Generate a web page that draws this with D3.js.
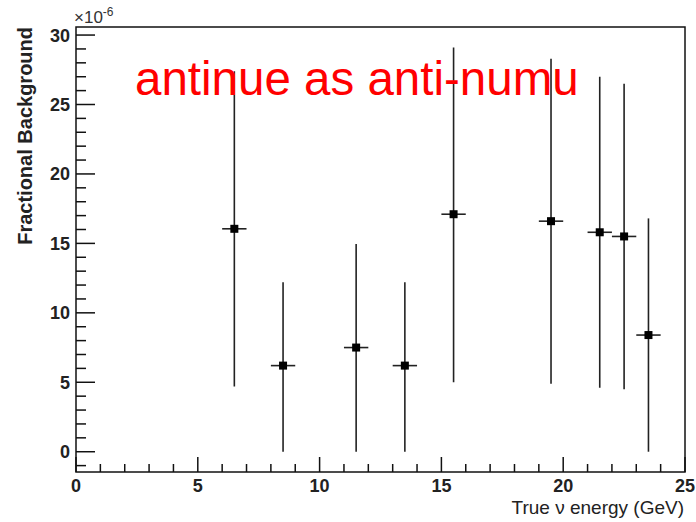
<!DOCTYPE html>
<html><head><meta charset="utf-8">
<script src="https://cdn.jsdelivr.net/npm/d3@7"></script>
<style>body{margin:0;background:#fff;} svg{display:block;}</style>
</head><body>
<svg id="c" width="696" height="522"></svg>
<script>
// Data (values in units of 1e-6)
const binCenters = [6.5, 8.5, 11.5, 13.5, 15.5, 19.5, 21.5, 22.5, 23.5];
const binHalfWidth = [0.5, 0.5, 0.5, 0.5, 0.5, 0.5, 0.5, 0.5, 0.5];
const values = [16.05, 6.2, 7.5, 6.2, 17.1, 16.6, 15.8, 15.5, 8.4];
const errLow  = [11.35, 6.2, 7.5, 6.2, 12.1, 11.7, 11.2, 11.0, 8.4];
const errHigh = [11.35, 6.0, 7.45, 6.0, 12.0, 11.7, 11.2, 11.0, 8.4];
const xMajorTicks = [0, 5, 10, 15, 20, 25];
const yMajorTicks = [0, 5, 10, 15, 20, 25, 30];
const title = "antinue as anti-numu";

const svg = d3.select("#c");
const L = 76, R = 685, T = 27, B = 472;
const x = d3.scaleLinear().domain([0, 25]).range([L, R]);
const y = d3.scaleLinear().domain([-1.46, 30.58]).range([B, T]);
const font = "Liberation Sans, Arial, Helvetica, sans-serif";
const ink = "#111";

// frame
svg.append("rect").attr("x", L).attr("y", T).attr("width", R - L).attr("height", B - T)
  .attr("fill", "none").attr("stroke", ink).attr("stroke-width", 1.5);

// x ticks
const xMinor = d3.range(0, 26, 1);
svg.append("g").selectAll("line").data(xMinor).join("line")
  .attr("x1", d => x(d)).attr("x2", d => x(d))
  .attr("y1", B).attr("y2", d => B - (d % 5 === 0 ? 15 : 8))
  .attr("stroke", ink).attr("stroke-width", 1.5);
svg.append("g").selectAll("text").data(xMajorTicks).join("text")
  .attr("x", d => x(d)).attr("y", 492)
  .attr("text-anchor", "middle").attr("font-family", font).attr("font-size", 18).attr("font-weight", "bold")
  .attr("fill", "#222").text(d => d);

// y ticks
const yMinor = d3.range(-1, 31, 1);
svg.append("g").selectAll("line").data(yMinor).join("line")
  .attr("x1", L).attr("x2", d => L + (d % 5 === 0 ? 19 : 10))
  .attr("y1", d => y(d)).attr("y2", d => y(d))
  .attr("stroke", ink).attr("stroke-width", 1.5);
svg.append("g").selectAll("text").data(yMajorTicks).join("text")
  .attr("x", 70).attr("y", d => y(d)).attr("dy", "0.36em")
  .attr("text-anchor", "end").attr("font-family", font).attr("font-size", 18).attr("font-weight", "bold")
  .attr("fill", "#222").text(d => d);

// exponent label
const ex = svg.append("text").attr("x", 74).attr("y", 23)
  .attr("font-family", font).attr("font-size", 17).attr("fill", "#333");
ex.append("tspan").text("×10");
ex.append("tspan").attr("dy", -7).attr("font-size", 12).text("-6");

// axis titles
svg.append("text").attr("x", 684).attr("y", 514).attr("text-anchor", "end")
  .attr("font-family", font).attr("font-size", 19).attr("fill", "#222")
  .text("True ν energy (GeV)");
svg.append("text").attr("transform", "translate(32,27) rotate(-90)")
  .attr("text-anchor", "end").attr("font-family", font).attr("font-size", 20).attr("font-weight", "bold")
  .attr("fill", "#222").text("Fractional Background");

// error bars and markers
const idx = d3.range(values.length);
const g = svg.append("g");
g.selectAll("line.v").data(idx).join("line").attr("class", "v")
  .attr("x1", i => x(binCenters[i])).attr("x2", i => x(binCenters[i]))
  .attr("y1", i => y(values[i] - errLow[i])).attr("y2", i => y(values[i] + errHigh[i]))
  .attr("stroke", "#222").attr("stroke-width", 1.6);
g.selectAll("line.h").data(idx).join("line").attr("class", "h")
  .attr("x1", i => x(binCenters[i] - binHalfWidth[i])).attr("x2", i => x(binCenters[i] + binHalfWidth[i]))
  .attr("y1", i => y(values[i])).attr("y2", i => y(values[i]))
  .attr("stroke", "#222").attr("stroke-width", 1.6);
g.selectAll("rect").data(idx).join("rect")
  .attr("x", i => x(binCenters[i]) - 4).attr("y", i => y(values[i]) - 4)
  .attr("width", 8).attr("height", 8).attr("fill", "#000");

// title text
svg.append("text").attr("x", 135).attr("y", 95)
  .attr("font-family", font).attr("font-size", 47.5).attr("fill", "#ff0000")
  .text(title);
</script>
</body></html>
